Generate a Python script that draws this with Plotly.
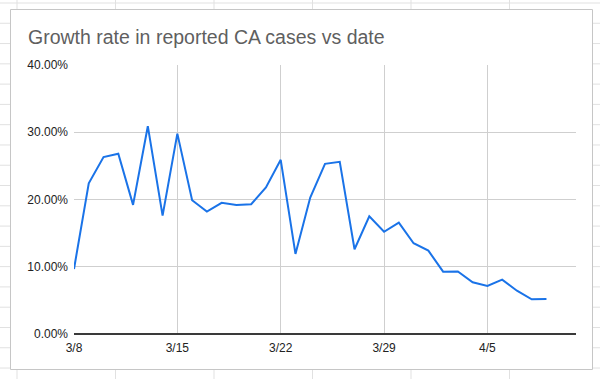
import plotly.graph_objects as go

dates = [
    "2020-03-08", "2020-03-09", "2020-03-10", "2020-03-11", "2020-03-12",
    "2020-03-13", "2020-03-14", "2020-03-15", "2020-03-16", "2020-03-17",
    "2020-03-18", "2020-03-19", "2020-03-20", "2020-03-21", "2020-03-22",
    "2020-03-23", "2020-03-24", "2020-03-25", "2020-03-26", "2020-03-27",
    "2020-03-28", "2020-03-29", "2020-03-30", "2020-03-31", "2020-04-01",
    "2020-04-02", "2020-04-03", "2020-04-04", "2020-04-05", "2020-04-06",
    "2020-04-07", "2020-04-08", "2020-04-09",
]
growth_rate = [
    0.0967, 0.224, 0.263, 0.268, 0.192,
    0.309, 0.176, 0.298, 0.199, 0.182,
    0.195, 0.192, 0.193, 0.218, 0.259,
    0.119, 0.203, 0.253, 0.256, 0.126,
    0.175, 0.152, 0.1655, 0.135, 0.124,
    0.0927, 0.093, 0.077, 0.0714, 0.0808,
    0.0644, 0.0516, 0.052,
]
x_tick_vals = ["2020-03-08", "2020-03-15", "2020-03-22", "2020-03-29", "2020-04-05"]
x_tick_text = ["3/8", "3/15", "3/22", "3/29", "4/5"]
x_range = ["2020-03-08", "2020-04-11"]
y_tick_vals = [0, 0.1, 0.2, 0.3, 0.4]

W, H = 600, 379
L, R, T, B = 74, 24, 65, 45
PW, PH = W - L - R, H - T - B


def px(x):
    return (x - L) / PW


def py(y):
    return (H - B - y) / PH


shapes = []
# spreadsheet grid behind the chart card
grid_col = "#e1e1e1"
for cx in [17, 115.5, 214, 312.5, 411, 509.5]:
    shapes.append(dict(type="line", xref="paper", yref="paper", x0=px(cx), x1=px(cx),
                       y0=py(-5), y1=py(H + 5), line=dict(color=grid_col, width=1), layer="below"))
k = 0
while 3 + 20.28 * k < H + 5:
    ry = 3 + 20.28 * k
    shapes.append(dict(type="line", xref="paper", yref="paper", x0=px(-5), x1=px(W + 5),
                       y0=py(ry), y1=py(ry), line=dict(color=grid_col, width=1), layer="below"))
    k += 1
# chart card
shapes.append(dict(type="rect", xref="paper", yref="paper", x0=px(10.5), x1=px(592.5),
                   y0=py(369.5), y1=py(9.5), fillcolor="white",
                   line=dict(color="#c6c6c6", width=1), layer="below"))

fig = go.Figure()
fig.add_trace(go.Scatter(
    x=dates, y=growth_rate, mode="lines",
    line=dict(color="#1a73e8", width=2),
    hoverinfo="x+y",
))

fig.update_layout(
    width=W, height=H,
    margin=dict(l=L, r=R, t=T, b=B, pad=0),
    paper_bgcolor="white", plot_bgcolor="white",
    showlegend=False,
    font=dict(family="Arial, Liberation Sans, sans-serif", size=12, color="#222222"),
    title=dict(
        text="Growth rate in reported CA cases vs date",
        x=28 / W, xref="container", xanchor="left",
        y=1 - 37 / H, yref="container", yanchor="middle",
        font=dict(family="Arial, Liberation Sans, sans-serif", size=19.5, color="#5f5f5f"),
    ),
    shapes=shapes,
    xaxis=dict(
        type="date", range=x_range,
        tickvals=x_tick_vals, ticktext=x_tick_text,
        showgrid=True, gridcolor="#cfcfcf", gridwidth=1,
        zeroline=False, showline=False, ticks="",
        ticklabelstandoff=5,
        tickfont=dict(size=12, color="#222222"),
    ),
    yaxis=dict(
        range=[0, 0.4], tickvals=y_tick_vals, tickformat=".2%",
        showgrid=True, gridcolor="#cfcfcf", gridwidth=1,
        zeroline=True, zerolinecolor="#3a3a3a", zerolinewidth=1.5,
        showline=False, ticks="",
        ticklabelstandoff=5,
        tickfont=dict(size=12, color="#222222"),
    ),
)

fig.write_html(
    "out.html",
    config={"displayModeBar": False},
    post_script="document.body.style.margin='0';document.body.style.overflow='hidden';",
)
